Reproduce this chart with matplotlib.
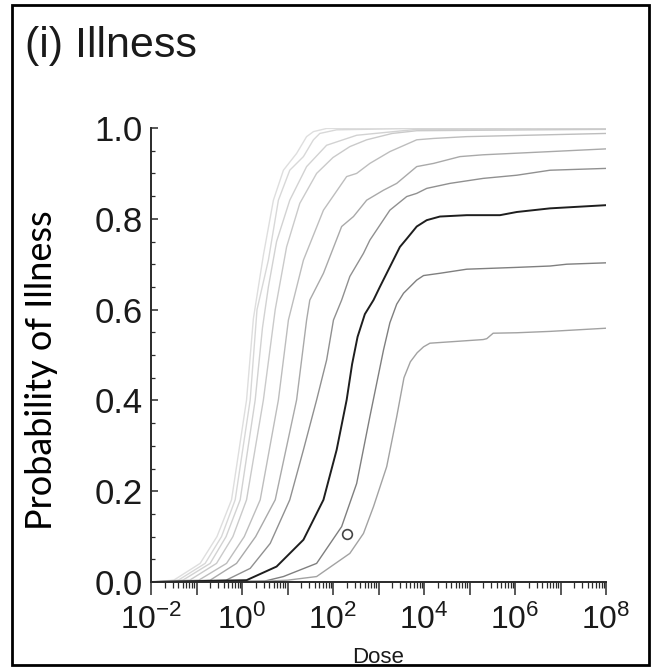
import numpy as np
import matplotlib.pyplot as plt
from matplotlib.patches import Rectangle
from matplotlib.ticker import LogLocator, MultipleLocator, NullFormatter

plt.rcParams['font.family'] = ['Liberation Sans', 'DejaVu Sans']
plt.rcParams['mathtext.fontset'] = 'custom'
plt.rcParams['mathtext.rm'] = 'Liberation Sans'
plt.rcParams['mathtext.it'] = 'Liberation Sans:italic'
plt.rcParams['mathtext.bf'] = 'Liberation Sans:bold'

# x values are log10(dose)
q1_logdose = [-2.0, -1.5, -0.92, -0.55, -0.23, 0.10, 0.25, 0.36, 0.47, 0.69, 0.91, 1.20, 1.42, 1.57, 1.86, 3.1, 8.0]
q1_prob = [0, 0.004, 0.041, 0.10, 0.181, 0.401, 0.58, 0.65, 0.72, 0.841, 0.907, 0.944, 0.981, 0.992, 0.999, 1.0, 1.0]

q2_logdose = [-2.0, -1.4, -0.81, -0.45, -0.15, 0.18, 0.33, 0.58, 0.80, 1.05, 1.35, 1.57, 1.71, 2.08, 3.84, 8.0]
q2_prob = [0, 0.004, 0.041, 0.10, 0.181, 0.401, 0.60, 0.709, 0.841, 0.907, 0.937, 0.974, 0.988, 0.996, 0.999, 1.0]

q3_logdose = [-2.0, -1.3, -0.70, -0.35, -0.04, 0.29, 0.45, 0.58, 0.76, 1.05, 1.42, 1.86, 2.52, 3.84, 8.0]
q3_prob = [0, 0.004, 0.041, 0.10, 0.181, 0.401, 0.56, 0.65, 0.75, 0.841, 0.915, 0.962, 0.984, 0.997, 0.998]

q4_logdose = [-2.0, -1.15, -0.56, -0.2, 0.10, 0.47, 0.73, 0.98, 1.27, 1.64, 2.0, 2.37, 2.74, 3.3, 3.84, 8.0]
q4_prob = [0, 0.004, 0.041, 0.10, 0.181, 0.401, 0.60, 0.738, 0.834, 0.900, 0.935, 0.959, 0.974, 0.988, 0.994, 0.997]

q5_logdose = [-2.0, -0.95, -0.34, 0.05, 0.40, 0.80, 1.02, 1.13, 1.35, 1.79, 2.30, 2.52, 2.81, 3.25, 3.84, 4.21, 4.94, 8.0]
q5_prob = [0, 0.004, 0.041, 0.10, 0.181, 0.401, 0.577, 0.621, 0.709, 0.819, 0.893, 0.900, 0.922, 0.948, 0.974, 0.977, 0.981, 0.988]

q6_logdose = [-2.0, -0.7, -0.12, 0.30, 0.73, 1.20, 1.42, 1.49, 1.79, 2.19, 2.45, 2.74, 3.11, 3.40, 3.84, 4.21, 4.79, 5.30, 6.77, 8.0]
q6_prob = [0, 0.004, 0.041, 0.10, 0.181, 0.401, 0.577, 0.621, 0.680, 0.783, 0.805, 0.841, 0.863, 0.878, 0.915, 0.922, 0.937, 0.941, 0.948, 0.954]

q7_logdose = [-2.0, -0.35, 0.18, 0.62, 1.05, 1.35, 1.64, 1.86, 2.01, 2.19, 2.37, 2.67, 2.81, 3.25, 3.62, 3.84, 4.06, 4.57, 5.30, 6.04, 6.77, 8.0]
q7_prob = [0, 0.004, 0.03, 0.085, 0.181, 0.291, 0.401, 0.489, 0.577, 0.621, 0.673, 0.724, 0.753, 0.819, 0.849, 0.856, 0.867, 0.878, 0.889, 0.896, 0.907, 0.911]

median_logdose = [-2.0, 0.10, 0.76, 1.35, 1.79, 2.08, 2.30, 2.42, 2.54, 2.70, 2.89, 3.03, 3.25, 3.47, 3.62, 3.84, 4.06, 4.35, 4.94, 5.67, 6.04, 6.77, 8.0]
median_prob = [0, 0.004, 0.034, 0.093, 0.181, 0.291, 0.401, 0.48, 0.54, 0.59, 0.621, 0.650, 0.694, 0.738, 0.756, 0.783, 0.797, 0.805, 0.808, 0.808, 0.815, 0.823, 0.830]

q9_logdose = [-2.0, 0.5, 0.91, 1.64, 2.19, 2.52, 2.81, 3.11, 3.25, 3.40, 3.55, 3.84, 3.99, 4.35, 4.94, 6.04, 6.77, 7.14, 8.0]
q9_prob = [0, 0.002, 0.012, 0.041, 0.122, 0.217, 0.364, 0.511, 0.571, 0.612, 0.636, 0.665, 0.675, 0.680, 0.689, 0.693, 0.696, 0.700, 0.703]

q10_logdose = [-2.0, 0.3, 1.0, 1.64, 2.37, 2.67, 2.89, 3.18, 3.40, 3.56, 3.70, 3.85, 3.99, 4.13, 4.57, 5.30, 5.38, 5.52, 6.04, 6.77, 8.0]
q10_prob = [0, 0.001, 0.004, 0.012, 0.063, 0.107, 0.166, 0.254, 0.364, 0.450, 0.485, 0.505, 0.518, 0.526, 0.529, 0.534, 0.536, 0.548, 0.549, 0.552, 0.559]

obs_logdose = 2.30
obs_prob = 0.105

xtick_exp = [-2, 0, 2, 4, 6, 8]
ytick_vals = [0.0, 0.2, 0.4, 0.6, 0.8, 1.0]

curves = [
    (q1_logdose, q1_prob, '#dedede', 1.0),
    (q2_logdose, q2_prob, '#d8d8d8', 1.0),
    (q3_logdose, q3_prob, '#d2d2d2', 1.0),
    (q4_logdose, q4_prob, '#cacaca', 1.0),
    (q5_logdose, q5_prob, '#bdbdbd', 1.0),
    (q6_logdose, q6_prob, '#a9a9a9', 1.0),
    (q7_logdose, q7_prob, '#909090', 1.0),
    (q9_logdose, q9_prob, '#7f7f7f', 1.0),
    (q10_logdose, q10_prob, '#a2a2a2', 1.0),
    (median_logdose, median_prob, '#1e1e1e', 1.4),
]

fig = plt.figure(figsize=(6.56, 6.70), dpi=100)
ax = fig.add_axes([151 / 656, 1 - 582 / 670, 455 / 656, 454 / 670])

for ld, p, c, w in curves:
    ax.plot(10.0 ** np.array(ld), p, color=c, lw=w, solid_joinstyle='round')

ax.plot(10.0 ** obs_logdose, obs_prob, 'o', mfc='none', mec='#444444', ms=7, mew=1.2)

ax.set_xscale('log')
ax.set_xlim(1e-2, 1e8)
ax.set_ylim(0, 1.0)

ax.spines['top'].set_visible(False)
ax.spines['right'].set_visible(False)
for s in ['left', 'bottom']:
    ax.spines[s].set_color('#2a2a2a')
    ax.spines[s].set_linewidth(1.4)

ax.set_xticks([10.0 ** e for e in range(-2, 9)])
ax.set_xticklabels(['$\\mathdefault{10^{%d}}$' % e if e in xtick_exp else '' for e in range(-2, 9)])
ax.xaxis.set_minor_locator(LogLocator(base=10, subs=np.arange(2, 10), numticks=100))
ax.xaxis.set_minor_formatter(NullFormatter())
ax.set_yticks(ytick_vals)
ax.set_yticklabels(['%.1f' % v for v in ytick_vals])
ax.yaxis.set_minor_locator(MultipleLocator(0.05))

ax.tick_params(axis='x', which='major', direction='out', length=9, width=1.1,
               color='#2a2a2a', labelsize=23, pad=7, labelcolor='#1a1a1a')
ax.tick_params(axis='x', which='minor', direction='out', length=4.5, width=0.9, color='#2a2a2a')
ax.tick_params(axis='y', which='major', direction='in', length=5, width=1.1,
               color='#2a2a2a', labelsize=25, pad=6, labelcolor='#1a1a1a')
ax.tick_params(axis='y', which='minor', direction='in', length=3, width=0.9, color='#2a2a2a')

fig.text(378 / 656, 1 - 663 / 670, 'Dose', ha='center', va='baseline', fontsize=16, color='#1a1a1a')
fig.text(42 / 656, 1 - 370 / 670, 'Probability of Illness', rotation=90, ha='center', va='center',
         fontsize=26, family=['Lato', 'DejaVu Sans'], color='black')
fig.text(25 / 656, 1 - 57 / 670, '(i) Illness', ha='left', va='baseline', fontsize=31, color='#1a1a1a')

fig.add_artist(Rectangle((12 / 656, 1 - 665 / 670), 637 / 656, 660 / 670,
                         transform=fig.transFigure, fill=False, lw=2, ec='black'))

fig.savefig('out.png', dpi=100)
